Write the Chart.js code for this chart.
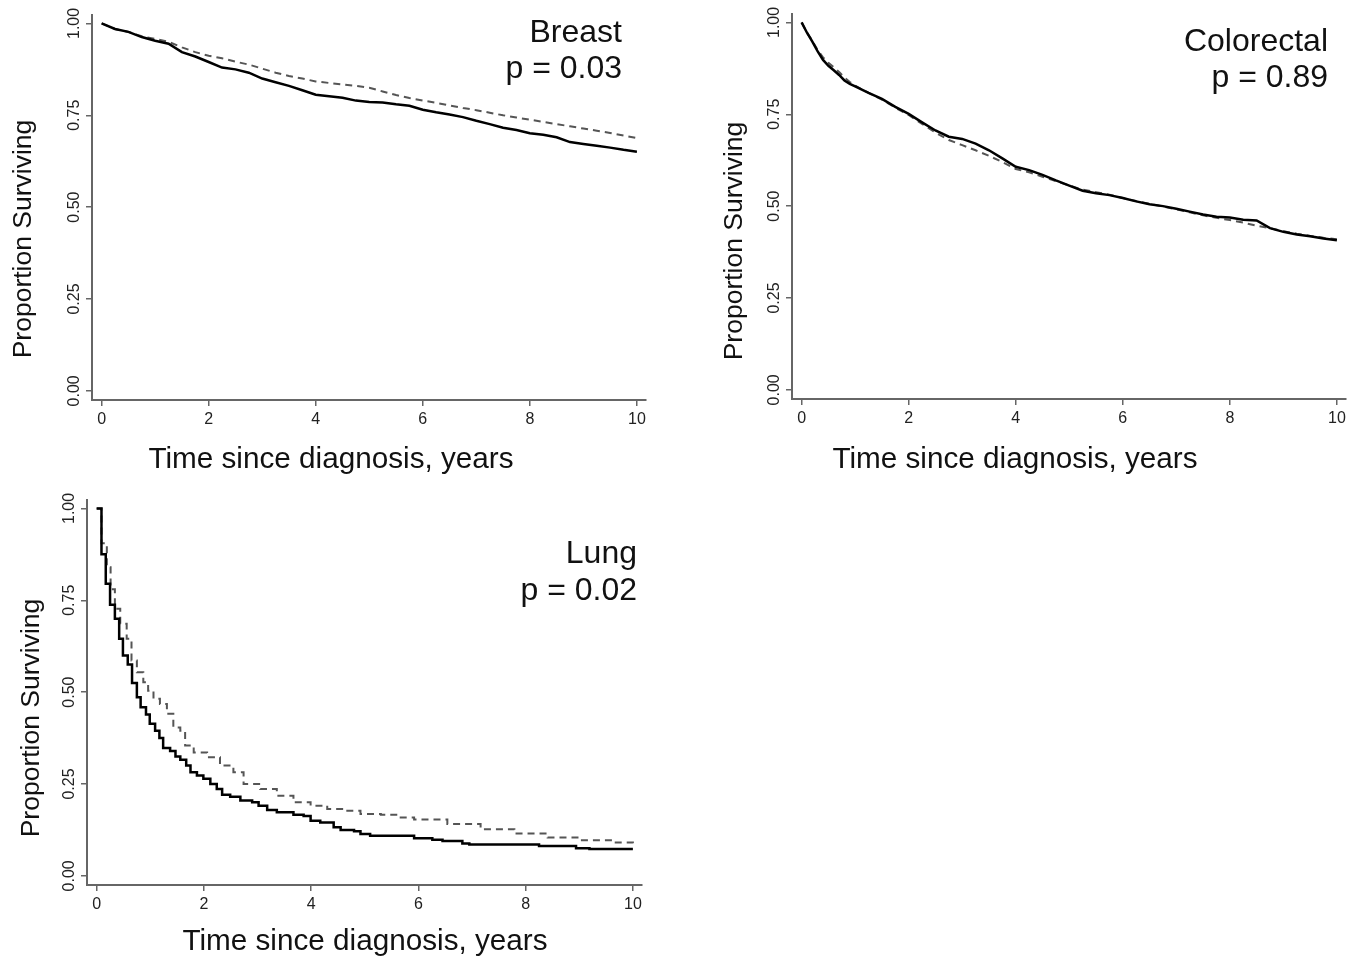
<!DOCTYPE html>
<html>
<head>
<meta charset="utf-8">
<script src="https://cdn.jsdelivr.net/npm/chart.js@4.4.0/dist/chart.umd.min.js"></script>
<style>
  html, body { margin: 0; padding: 0; background: #fff; }
  #wrap { position: relative; width: 1355px; height: 957px; }
  canvas { position: absolute; }
</style>
</head>
<body>
<div id="wrap">
  <canvas id="breast" width="677" height="478" style="left:0;top:0"></canvas>
  <canvas id="colorectal" width="678" height="478" style="left:677px;top:0"></canvas>
  <canvas id="lung" width="677" height="479" style="left:0;top:478px"></canvas>
</div>
<script>
const FONT = "'Liberation Sans', Arial, Helvetica, sans-serif";
Chart.defaults.font.family = FONT;

const xTicks = [0, 2, 4, 6, 8, 10];
const yTicks = [0, 0.25, 0.5, 0.75, 1];
const yTickLabels = ["0.00", "0.25", "0.50", "0.75", "1.00"];
const xTitle = "Time since diagnosis, years";
const yTitle = "Proportion Surviving";

// breast: years and proportion surviving (solid / dashed group)
const breastT = [0, 0.25, 0.5, 0.75, 1, 1.25, 1.5, 1.75, 2, 2.25, 2.5, 2.75, 3, 3.25, 3.5, 3.75, 4,
  4.25, 4.5, 4.75, 5, 5.25, 5.5, 5.75, 6, 6.25, 6.5, 6.75, 7, 7.25, 7.5, 7.75, 8, 8.25, 8.5, 8.75,
  9, 9.25, 9.5, 9.75, 10];
const breastSolid = [1, 0.985, 0.977, 0.963, 0.953, 0.945, 0.922, 0.91, 0.895, 0.88, 0.875, 0.866,
  0.85, 0.84, 0.83, 0.818, 0.806, 0.802, 0.798, 0.79, 0.786, 0.785, 0.78, 0.776, 0.765, 0.758,
  0.752, 0.745, 0.735, 0.726, 0.716, 0.71, 0.701, 0.697, 0.69, 0.677, 0.672, 0.667, 0.662, 0.656, 0.651];
const breastDashed = [1, 0.985, 0.977, 0.965, 0.958, 0.95, 0.935, 0.922, 0.912, 0.905, 0.896, 0.888,
  0.877, 0.866, 0.857, 0.85, 0.842, 0.838, 0.834, 0.83, 0.825, 0.815, 0.805, 0.797, 0.79, 0.784,
  0.777, 0.77, 0.764, 0.757, 0.75, 0.744, 0.738, 0.732, 0.726, 0.72, 0.714, 0.708, 0.702, 0.695, 0.688];

// colorectal
const crcT = [0, 0.1, 0.2, 0.3, 0.4, 0.5, 0.6, 0.7, 0.8, 0.9, 1, 1.25, 1.5, 1.75, 2, 2.25, 2.5, 2.75,
  3, 3.25, 3.5, 3.75, 4, 4.25, 4.5, 4.75, 5, 5.25, 5.5, 5.75, 6, 6.25, 6.5, 6.75, 7, 7.25, 7.5, 7.75,
  8, 8.25, 8.5, 8.75, 9, 9.25, 9.5, 9.75, 10];
const crcSolid = [1, 0.972, 0.948, 0.921, 0.898, 0.882, 0.87, 0.857, 0.842, 0.833, 0.826, 0.808,
  0.792, 0.77, 0.751, 0.728, 0.706, 0.689, 0.683, 0.67, 0.652, 0.63, 0.607, 0.598, 0.585, 0.57,
  0.556, 0.542, 0.535, 0.53, 0.522, 0.513, 0.505, 0.5, 0.493, 0.485, 0.477, 0.471, 0.469, 0.463,
  0.461, 0.44, 0.43, 0.423, 0.418, 0.412, 0.407];
const crcDashed = [1, 0.972, 0.95, 0.925, 0.905, 0.89, 0.878, 0.865, 0.85, 0.838, 0.828, 0.808,
  0.79, 0.768, 0.748, 0.724, 0.7, 0.68, 0.666, 0.652, 0.637, 0.62, 0.601, 0.592, 0.58, 0.568,
  0.556, 0.545, 0.538, 0.531, 0.522, 0.514, 0.506, 0.499, 0.491, 0.483, 0.475, 0.468, 0.462, 0.455,
  0.447, 0.44, 0.432, 0.425, 0.419, 0.414, 0.41];

// lung (each curve has its own event times)
const lungSolidT = [0, 0.09, 0.17, 0.25, 0.34, 0.42, 0.49, 0.58, 0.66, 0.75, 0.82, 0.92, 0.99, 1.09,
  1.17, 1.24, 1.37, 1.47, 1.56, 1.67, 1.75, 1.87, 1.99, 2.12, 2.24, 2.34, 2.49, 2.68, 2.9, 3.02,
  3.18, 3.36, 3.67, 3.86, 3.99, 4.17, 4.42, 4.55, 4.8, 4.92, 5.1, 5.92, 6.26, 6.45, 6.82, 6.95,
  8.25, 8.94, 9.19, 10];
const lungSolid = [1, 0.875, 0.795, 0.738, 0.7, 0.645, 0.6, 0.575, 0.525, 0.486, 0.459, 0.439,
  0.414, 0.395, 0.375, 0.348, 0.34, 0.325, 0.316, 0.3, 0.282, 0.273, 0.264, 0.25, 0.236, 0.221,
  0.215, 0.205, 0.2, 0.191, 0.179, 0.173, 0.166, 0.163, 0.15, 0.145, 0.132, 0.125, 0.121, 0.114,
  0.109, 0.102, 0.098, 0.095, 0.088, 0.085, 0.081, 0.075, 0.073, 0.073];
const lungDashedT = [0, 0.09, 0.19, 0.26, 0.34, 0.44, 0.56, 0.65, 0.75, 0.87, 0.96, 1.06, 1.18,
  1.31, 1.43, 1.56, 1.65, 1.81, 2.06, 2.3, 2.55, 2.74, 3.05, 3.36, 3.67, 3.99, 4.3, 4.61, 4.92,
  5.3, 5.67, 5.92, 6.54, 7.16, 7.79, 8.41, 9.03, 9.66, 10];
const lungDashed = [1, 0.905, 0.84, 0.78, 0.727, 0.686, 0.645, 0.586, 0.554, 0.527, 0.504, 0.482,
  0.468, 0.441, 0.404, 0.395, 0.355, 0.336, 0.323, 0.3, 0.282, 0.25, 0.236, 0.218, 0.2, 0.191,
  0.182, 0.177, 0.168, 0.166, 0.159, 0.153, 0.141, 0.127, 0.115, 0.104, 0.097, 0.091, 0.085];

function pts(t, s) {
  return t.map((v, i) => ({ x: v, y: s[i] }));
}

// axis titles and the name / p-value note, drawn on the chart canvas
const panelText = {
  id: "panelText",
  afterDraw(chart, args, o) {
    const ctx = chart.ctx;
    ctx.save();
    ctx.fillStyle = "#111";
    ctx.textBaseline = "alphabetic";

    ctx.font = o.noteSize + "px " + FONT;
    ctx.textAlign = "right";
    o.note.forEach((line, i) => ctx.fillText(line, o.noteX, o.noteY[i]));

    ctx.textAlign = "center";
    ctx.font = o.xtSize + "px " + FONT;
    ctx.fillText(xTitle, o.xtX, o.xtY);

    ctx.translate(o.ytX, o.ytY);
    ctx.rotate(-Math.PI / 2);
    ctx.font = o.ytSize + "px " + FONT;
    ctx.fillText(yTitle, 0, 0);
    ctx.restore();
  }
};

function makePanel(id, p) {
  const axisGrid = { drawOnChartArea: false, drawTicks: true, tickLength: 6, color: "#666", lineWidth: 1.5 };
  const axisBorder = { color: "#666", width: 2 };
  new Chart(document.getElementById(id), {
    type: "line",
    data: {
      datasets: [
        { data: pts(p.solidT, p.solid), borderColor: "#000", borderWidth: 2.5,
          stepped: p.stepped, pointRadius: 0, fill: false },
        { data: pts(p.dashT, p.dash), borderColor: "#555", borderWidth: 2, borderDash: [7, 5],
          stepped: p.stepped, pointRadius: 0, fill: false }
      ]
    },
    options: {
      responsive: false,
      animation: false,
      events: [],
      layout: { padding: p.pad },
      plugins: {
        legend: { display: false },
        tooltip: { enabled: false },
        panelText: p.text
      },
      scales: {
        x: {
          type: "linear",
          min: -0.18,
          max: 10.17,
          afterBuildTicks: a => { a.ticks = xTicks.map(v => ({ value: v })); },
          afterFit: a => { a.height = p.xh; },
          grid: axisGrid,
          border: axisBorder,
          ticks: { padding: 4, maxRotation: 0, font: { size: 16 }, color: "#222",
            callback: v => String(v) }
        },
        y: {
          type: "linear",
          min: -0.025,
          max: 1.023,
          afterBuildTicks: a => { a.ticks = yTicks.map(v => ({ value: v })); },
          afterFit: a => { a.width = p.yw; },
          grid: axisGrid,
          border: axisBorder,
          ticks: { minRotation: 90, maxRotation: 90, crossAlign: "center", padding: -4,
            font: { size: 16 }, color: "#222", callback: (v, i) => yTickLabels[i] }
        }
      }
    },
    plugins: [panelText]
  });
}

makePanel("breast", {
  solidT: breastT, solid: breastSolid, dashT: breastT, dash: breastDashed, stepped: false,
  pad: { top: 15, right: 31, left: 0, bottom: 0 }, yw: 92, xh: 78,
  text: { note: ["Breast", "p = 0.03"], noteSize: 32, noteX: 622, noteY: [42, 78],
    xtSize: 29.7, xtX: 331, xtY: 468, ytSize: 26.5, ytX: 31, ytY: 239 }
});

makePanel("colorectal", {
  solidT: crcT, solid: crcSolid, dashT: crcT, dash: crcDashed, stepped: false,
  pad: { top: 14, right: 9, left: 0, bottom: 0 }, yw: 115, xh: 79,
  text: { note: ["Colorectal", "p = 0.89"], noteSize: 32, noteX: 651, noteY: [51, 87],
    xtSize: 29.7, xtX: 338, xtY: 468, ytSize: 26.5, ytX: 65, ytY: 241 }
});

makePanel("lung", {
  solidT: lungSolidT, solid: lungSolid, dashT: lungDashedT, dash: lungDashed, stepped: true,
  pad: { top: 22, right: 35, left: 0, bottom: 0 }, yw: 87, xh: 72,
  text: { note: ["Lung", "p = 0.02"], noteSize: 32, noteX: 637, noteY: [85, 122],
    xtSize: 29.7, xtX: 365, xtY: 472, ytSize: 26.5, ytX: 39, ytY: 240 }
});
</script>
</body>
</html>
